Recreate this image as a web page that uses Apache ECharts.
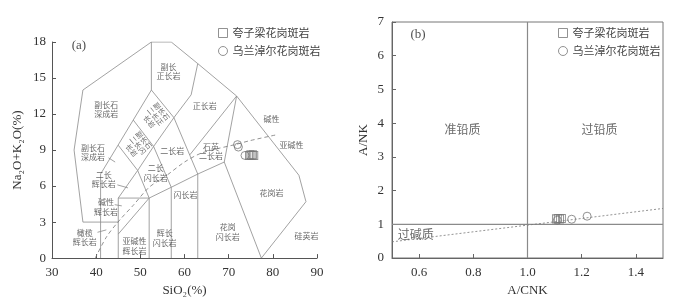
<!DOCTYPE html>
<html><head><meta charset="utf-8">
<script src="https://cdn.jsdelivr.net/npm/echarts@6/dist/echarts.min.js"></script>
<style>html,body{margin:0;padding:0;background:#fff}#c{width:675px;height:302px}</style>
</head><body><div id="c"></div>
<script>
// ---------- (a) TAS diagram ----------
const TAS_X_TICKS = [30, 40, 50, 60, 70, 80, 90];
const TAS_Y_TICKS = [0, 3, 6, 9, 12, 15, 18];
const TAS_BOUNDARY_LINES = [
  [[45,3],[37,3],[35,9],[37,14],[52.5,18],[57,18],[63,16.2],[71.8,13.5],[85.9,6.9],[87.5,4.7],[77.4,0]],
  [[41,0],[41,7]],
  [[45,0],[45,5],[52,5],[52,0]],
  [[45,2],[52,5]],
  [[41,7],[52.5,14],[52.5,18]],
  [[45,5],[49.4,7.3],[52,5]],
  [[45,9.4],[49.4,7.3],[53,9.3],[57,5.9]],
  [[48.4,11.5],[53,9.3],[57.6,11.7],[52.5,14]],
  [[52,5],[57,5.9],[63,7],[69,8],[77.4,0]],
  [[57,0],[57,5.9]],
  [[63,0],[63,7],[57.6,11.7],[61.5,13.6],[63,16.2]],
  [[61.2,8.6],[71.8,13.5],[69,8]]
];
const TAS_LEADER_LINES = [
  [[42.8,8.35],[44.3,8.0]],
  [[44.8,6.1],[47.2,5.85]],
  [[44.2,4.45],[45.8,4.35]],
  [[40.3,2.15],[42.3,2.35]]
];
const TAS_ALKALINE_CURVE = [[39.8,0],[42.4,1.8],[45.4,3.2],[48.4,4.4],[52,5.9],[56,6.9],[60,8.0],[63.5,8.7],[67.3,9.1],[71.4,9.45],[75,9.8],[81.2,10.3]];
const TAS_FIELD_LABELS = [
  [56.4,15.55,'副长\n正长岩'],
  [42.3,12.4,'副长石\n深成岩'],
  [64.6,12.7,'正长岩'],
  [79.7,11.55,'碱性'],
  [84.2,9.4,'亚碱性'],
  [39.3,8.78,'副长石\n深成岩'],
  [57.2,8.95,'二长岩'],
  [66.0,8.9,'石英\n二长岩'],
  [41.7,6.55,'二长\n辉长岩'],
  [53.5,7.1,'二长\n闪长岩'],
  [42.2,4.25,'碱性\n辉长岩'],
  [60.2,5.28,'闪长岩'],
  [37.4,1.7,'橄榄\n辉长岩'],
  [48.7,1.02,'亚碱性\n辉长岩'],
  [55.5,1.68,'辉长\n闪长岩'],
  [69.8,2.17,'花岗\n闪长岩'],
  [79.7,5.42,'花岗岩'],
  [87.6,1.84,'硅英岩']
];
const TAS_ROTATED_LABELS = [
  [53.4,11.8,'副长石\n二长正\n长岩'],
  [49.4,9.4,'副长石\n二长闪\n长岩']
];
const TAS_SQUARES = [[74.6,8.55],[74.9,8.6],[75.2,8.55],[75.5,8.6],[75.8,8.55]];
const TAS_CIRCLES = [[72.0,9.45],[72.2,9.25],[73.7,8.55]];

// ---------- (b) A/NK vs A/CNK ----------
const ACNK_X_TICKS = [0.6, 0.8, 1.0, 1.2, 1.4];
const ANK_Y_TICKS = [0, 1, 2, 3, 4, 5, 6, 7];
const B_SOLID_LINES = [ [[1,0],[1,7]], [[0.5,1],[1.5,1]] ];
const B_DASHED_LINE = [[0.5,0.48],[1.5,1.47]];
const B_SQUARES = [[1.105,1.16],[1.112,1.17],[1.12,1.16],[1.127,1.17]];
const B_CIRCLES = [[1.11,1.12],[1.163,1.15],[1.22,1.24]];
const B_FIELD_LABELS = [
  [0.76,3.82,'准铅质'],
  [1.266,3.82,'过铅质'],
  [0.588,0.7,'过碱质']
];

const NAME_SQ = '夸子梁花岗斑岩';
const NAME_CI = '乌兰淖尔花岗斑岩';
const LINE_C = '#8a8a8a';
const SERIF = '"Liberation Serif","DejaVu Serif",serif';
const CJK = '"Noto Sans CJK SC","Noto Sans CJK JP",sans-serif';

const series = [];
TAS_BOUNDARY_LINES.concat(TAS_LEADER_LINES).forEach(pl => series.push({
  type:'line', xAxisIndex:0, yAxisIndex:0, data:pl, symbol:'none', silent:true,
  lineStyle:{color:LINE_C, width:0.8}, z:2
}));
series.push({type:'line', xAxisIndex:0, yAxisIndex:0, data:TAS_ALKALINE_CURVE, symbol:'none', smooth:0.3, silent:true,
  lineStyle:{color:'#777', width:0.8, type:[4,3]}, z:2});
series.push({type:'scatter', xAxisIndex:0, yAxisIndex:0, silent:true, symbolSize:1,
  itemStyle:{color:'rgba(0,0,0,0)'},
  data: TAS_FIELD_LABELS.map(l => ({value:[l[0],l[1]], name:l[2]})),
  label:{show:true, position:'inside', formatter:'{b}', fontSize:8, lineHeight:9.5, color:'#444', fontFamily:CJK, align:'center', verticalAlign:'middle'}, z:3});
series.push({type:'scatter', xAxisIndex:0, yAxisIndex:0, silent:true, symbolSize:1,
  itemStyle:{color:'rgba(0,0,0,0)'},
  data: TAS_ROTATED_LABELS.map(l => ({value:[l[0],l[1]], name:l[2]})),
  label:{show:true, position:'inside', formatter:'{b}', fontSize:7, lineHeight:8, color:'#444', fontFamily:CJK, rotate:-50, align:'center', verticalAlign:'middle'}, z:3});
series.push({type:'scatter', xAxisIndex:0, yAxisIndex:0, silent:true, symbolSize:1,
  itemStyle:{color:'rgba(0,0,0,0)'},
  data:[{value:[36.1,17.7], name:'(a)'}],
  label:{show:true, position:'inside', formatter:'{b}', fontSize:13, color:'#222', fontFamily:SERIF}, z:3});

const markerStyle = {color:'rgba(255,255,255,0)', borderColor:'#777', borderWidth:1};
series.push({name:NAME_SQ, type:'scatter', xAxisIndex:0, yAxisIndex:0, data:TAS_SQUARES, symbol:'rect', symbolSize:[7,8], itemStyle:markerStyle, z:5});
series.push({name:NAME_CI, type:'scatter', xAxisIndex:0, yAxisIndex:0, data:TAS_CIRCLES, symbol:'circle', symbolSize:8, itemStyle:markerStyle, z:5});

B_SOLID_LINES.forEach(pl => series.push({type:'line', xAxisIndex:1, yAxisIndex:1, data:pl, symbol:'none', silent:true,
  lineStyle:{color:'#8a8a8a', width:1.2}, z:2}));
series.push({type:'line', xAxisIndex:1, yAxisIndex:1, data:B_DASHED_LINE, symbol:'none', silent:true,
  lineStyle:{color:'#777', width:0.8, type:[2,2]}, z:2});
series.push({type:'scatter', xAxisIndex:1, yAxisIndex:1, silent:true, symbolSize:1,
  itemStyle:{color:'rgba(0,0,0,0)'},
  data: B_FIELD_LABELS.map(l => ({value:[l[0],l[1]], name:l[2]})),
  label:{show:true, position:'inside', formatter:'{b}', fontSize:12, color:'#444', fontFamily:CJK}, z:3});
series.push({type:'scatter', xAxisIndex:1, yAxisIndex:1, silent:true, symbolSize:1,
  itemStyle:{color:'rgba(0,0,0,0)'},
  data:[{value:[0.596,6.62], name:'(b)'}],
  label:{show:true, position:'inside', formatter:'{b}', fontSize:13, color:'#222', fontFamily:SERIF}, z:3});
series.push({name:NAME_SQ, type:'scatter', xAxisIndex:1, yAxisIndex:1, data:B_SQUARES, symbol:'rect', symbolSize:[7,8], itemStyle:markerStyle, z:5});
series.push({name:NAME_CI, type:'scatter', xAxisIndex:1, yAxisIndex:1, data:B_CIRCLES, symbol:'circle', symbolSize:8, itemStyle:markerStyle, z:5});

const axisTxt = {fontFamily:SERIF, fontSize:13, color:'#333'};
const legendBase = {orient:'vertical', itemWidth:9, itemHeight:9, itemGap:6, itemTextGap:6,
  itemStyle:{color:'#fff', borderColor:'#777', borderWidth:1},
  textStyle:{fontFamily:CJK, fontSize:11, color:'#444', lineHeight:12},
  data:[NAME_SQ, NAME_CI], selectedMode:false};

const option = {
  animation:false,
  backgroundColor:'#fff',
  grid:[
    {left:52, top:42, width:265, height:218},
    {left:392, top:22, width:271, height:238, show:true, borderColor:'#777', borderWidth:1}
  ],
  legend:[
    Object.assign({left:213, top:22}, legendBase),
    Object.assign({left:553, top:22}, legendBase)
  ],
  xAxis:[
    {gridIndex:0, type:'value', min:TAS_X_TICKS[0], max:TAS_X_TICKS[TAS_X_TICKS.length-1], interval:10,
     name:'SiO₂(%)', nameLocation:'middle', nameGap:24, nameTextStyle:axisTxt,
     axisLine:{lineStyle:{color:'#555', width:1}}, axisTick:{inside:true, length:4, lineStyle:{color:'#555'}},
     axisLabel:Object.assign({margin:8}, axisTxt), splitLine:{show:false}},
    {gridIndex:1, type:'value', min:0.5, max:1.5,
     name:'A/CNK', nameLocation:'middle', nameGap:26, nameTextStyle:axisTxt,
     axisLine:{lineStyle:{color:'#666', width:1}},
     axisTick:{inside:true, length:4, customValues:ACNK_X_TICKS, lineStyle:{color:'#666'}},
     axisLabel:Object.assign({margin:8, customValues:ACNK_X_TICKS, formatter:v=>Number(v).toFixed(1)}, axisTxt),
     splitLine:{show:false}}
  ],
  yAxis:[
    {gridIndex:0, type:'value', min:TAS_Y_TICKS[0], max:TAS_Y_TICKS[TAS_Y_TICKS.length-1], interval:3,
     name:'Na₂O+K₂O(%)', nameLocation:'middle', nameGap:28, nameRotate:90, nameTextStyle:axisTxt,
     axisLine:{lineStyle:{color:'#555', width:1}}, axisTick:{inside:true, length:4, lineStyle:{color:'#555'}},
     axisLabel:Object.assign({margin:6}, axisTxt), splitLine:{show:false}},
    {gridIndex:1, type:'value', min:ANK_Y_TICKS[0], max:ANK_Y_TICKS[ANK_Y_TICKS.length-1], interval:1,
     name:'A/NK', nameLocation:'middle', nameGap:22, nameRotate:90, nameTextStyle:axisTxt,
     axisLine:{lineStyle:{color:'#666', width:1}}, axisTick:{inside:true, length:4, lineStyle:{color:'#666'}},
     axisLabel:Object.assign({margin:8}, axisTxt), splitLine:{show:false}}
  ],
  series:series
};
const chart = echarts.init(document.getElementById('c'), null, {renderer:'canvas'});
chart.setOption(option);
</script></body></html>
